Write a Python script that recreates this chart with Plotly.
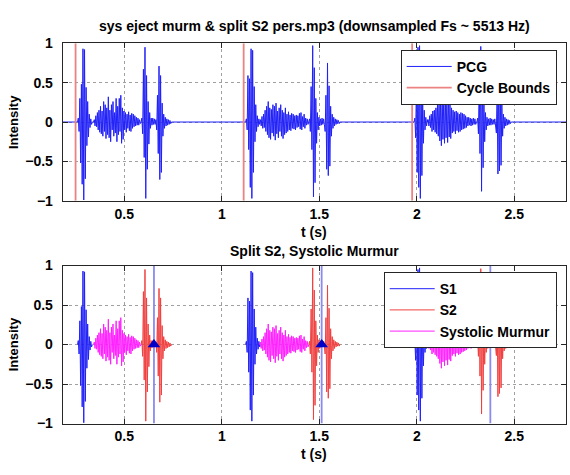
import plotly.graph_objects as go

# ---------------- data ----------------
DT = 0.004  # spacing between successive oscillation peaks (s)
X_MIN, X_MAX = 0.184, 2.765

cycle_bounds = [0.250, 1.112, 1.976]
split_marks = [0.652, 1.512, 2.377]

s1_start = [0.264, 1.126, 1.990]
s1_amp = [
    [0.05, -0.12, 0.30, -0.52, 0.48, -0.79, 0.93, -0.99, 0.92, -0.72, 0.44, -0.30, 0.26, -0.19, 0.10, -0.07, 0.04, -0.03],
    [0.04, -0.10, 0.59, -0.35, 0.55, -0.83, 0.93, -0.97, 0.91, -0.64, 0.45, -0.25, 0.22, -0.12, 0.08, -0.06, 0.04, -0.03],
    [0.05, -0.20, 0.50, -0.64, 0.95, -0.83, 0.97, -0.97, 0.70, -0.68, 0.26, -0.27, 0.15, -0.10, 0.06, -0.05, 0.03],
]

mm_start = [0.346, 1.198, 2.058]
mm_amp = [
    [0.03, -0.05, 0.08, -0.06, 0.12, -0.10, 0.15, -0.13, 0.20, -0.15,
     0.14, -0.18, 0.26, -0.12, 0.22, -0.21, 0.18, -0.16, 0.32, -0.20,
     0.15, -0.25, 0.22, -0.10, 0.26, -0.18, 0.12, -0.14, 0.30, -0.25,
     0.20, -0.16, 0.30, -0.12, 0.34, -0.27, 0.18, -0.22, 0.14, -0.10,
     0.12, -0.13, 0.10, -0.08, 0.13, -0.11, 0.09, -0.12, 0.11, -0.08,
     0.10, -0.06, 0.08, -0.05, 0.06, -0.04, 0.05, -0.04, 0.03, -0.02],
    [0.03, -0.05, 0.07, -0.08, 0.10, -0.07, 0.15, -0.12, 0.20, -0.16,
     0.26, -0.20, 0.18, -0.22, 0.16, -0.14, 0.22, -0.18, 0.20, -0.23,
     0.24, -0.15, 0.14, -0.20, 0.18, -0.12, 0.22, -0.18, 0.15, -0.21,
     0.12, -0.16, 0.18, -0.14, 0.10, -0.12, 0.13, -0.10, 0.09, -0.11,
     0.11, -0.08, 0.10, -0.09, 0.08, -0.10, 0.09, -0.07, 0.08, -0.06,
     0.11, -0.09, 0.12, -0.10, 0.07, -0.06, 0.10, -0.08, 0.05, -0.04,
     0.04, -0.03],
    [0.03, -0.05, 0.08, -0.07, 0.10, -0.12, 0.14, -0.10, 0.15, -0.13,
     0.18, -0.15, 0.22, -0.18, 0.30, -0.24, 0.26, -0.30, 0.34, -0.22,
     0.28, -0.27, 0.32, -0.20, 0.25, -0.26, 0.30, -0.19, 0.22, -0.21,
     0.18, -0.14, 0.15, -0.12, 0.13, -0.15, 0.14, -0.11, 0.12, -0.13,
     0.10, -0.12, 0.12, -0.10, 0.11, -0.09, 0.10, -0.08, 0.08, -0.07,
     0.06, -0.05, 0.06, -0.04, 0.05, -0.05, 0.04, -0.04, 0.05, -0.03,
     0.04, -0.03],
]

s2_start = [0.590, 1.450, 2.312]
s2_amp = [
    [0.05, -0.15, 0.67, -0.45, 0.95, -0.97, 0.59, -0.60, 0.26, -0.28, 0.12, -0.08, 0.05,
     -0.04, 0.05, -0.03, 0.04, -0.03, 0.03,
     -0.10, 0.34, -0.40, 0.71, -0.73, 0.59, -0.64, 0.24, -0.18, 0.10, -0.08, 0.06, -0.05,
     0.04, -0.04, 0.03, -0.03, 0.02, -0.02],
    [0.04, -0.12, 0.45, -0.35, 0.97, -0.95, 0.69, -0.77, 0.30, -0.27, 0.12, -0.10, 0.06,
     -0.05, 0.04, -0.04, 0.05, -0.03, 0.04, -0.03,
     -0.12, 0.34, -0.60, 0.75, -0.68, 0.46, -0.56, 0.20, -0.18, 0.10, -0.08, 0.06, -0.05,
     0.04, -0.03, 0.03, -0.02, 0.02, -0.02],
    [0.05, -0.15, 0.55, -0.40, 0.96, -0.88, 0.70, -0.58, 0.28, -0.25, 0.12, -0.10, 0.06,
     -0.05, 0.04, -0.04, 0.05, -0.04, 0.04, -0.03, 0.03, -0.03, 0.04, -0.03,
     -0.14, 0.40, -0.66, 0.72, -0.62, 0.50, -0.55, 0.22, -0.18, 0.10, -0.08, 0.06, -0.05,
     0.04, -0.04, 0.03, -0.03, 0.02, -0.02],
]

y_ticks = [-1, -0.5, 0, 0.5, 1]
x_ticks = [0.5, 1, 1.5, 2, 2.5]

TITLE_TOP = "sys eject murm &amp; split S2 pers.mp3 (downsampled Fs ~ 5513 Hz)"
TITLE_BOT = "Split S2, Systolic Murmur"

# ---------------- helpers ----------------
def segment(start, amps):
    xs = [start - DT] + [start + i * DT for i in range(len(amps))] + [start + len(amps) * DT]
    ys = [0.0] + list(amps) + [0.0]
    return xs, ys


def join(starts, amps_list):
    X, Y = [], []
    for st, a in zip(starts, amps_list):
        xs, ys = segment(st, a)
        X += xs + [None]
        Y += ys + [None]
    return X, Y


# full PCG for top panel
pieces = []
for st, a in zip(s1_start, s1_amp):
    pieces.append(segment(st, a))
for st, a in zip(mm_start, mm_amp):
    pieces.append(segment(st, a))
for st, a in zip(s2_start, s2_amp):
    pieces.append(segment(st, a))
pieces.sort(key=lambda p: p[0][0])
pcg_x, pcg_y = [X_MIN], [0.0]
for xs, ys in pieces:
    pcg_x += xs
    pcg_y += ys
pcg_x.append(X_MAX)
pcg_y.append(0.0)


def vlines(xs):
    X, Y = [], []
    for v in xs:
        X += [v, v, None]
        Y += [-1, 1, None]
    return X, Y


FONT = "Liberation Sans, Arial, sans-serif"
BLUE = "#2020f8"
fig = go.Figure()

# top panel
fig.add_trace(go.Scatter(x=pcg_x, y=pcg_y, mode="lines", name="PCG",
                         line=dict(color=BLUE, width=1), xaxis="x", yaxis="y", legend="legend"))
cbx, cby = vlines(cycle_bounds)
fig.add_trace(go.Scatter(x=cbx, y=cby, mode="lines", name="Cycle Bounds",
                         line=dict(color="#ec8282", width=1.8), xaxis="x", yaxis="y", legend="legend"))

# bottom panel
sx, sy = join(s1_start, s1_amp)
fig.add_trace(go.Scatter(x=sx, y=sy, mode="lines", name="S1",
                         line=dict(color=BLUE, width=1), xaxis="x2", yaxis="y2", legend="legend2"))
sx, sy = join(s2_start, s2_amp)
fig.add_trace(go.Scatter(x=sx, y=sy, mode="lines", name="S2",
                         line=dict(color="#f04040", width=1), xaxis="x2", yaxis="y2", legend="legend2"))
sx, sy = join(mm_start, mm_amp)
fig.add_trace(go.Scatter(x=sx, y=sy, mode="lines", name="Systolic Murmur",
                         line=dict(color="#ff20ff", width=1), xaxis="x2", yaxis="y2", legend="legend2"))
smx, smy = vlines(split_marks)
fig.add_trace(go.Scatter(x=smx, y=smy, mode="lines", showlegend=False,
                         line=dict(color="#8a8af0", width=1.8), xaxis="x2", yaxis="y2"))
fig.add_trace(go.Scatter(x=split_marks, y=[0] * len(split_marks), mode="markers", showlegend=False,
                         marker=dict(symbol="triangle-up", size=11, color="#0000c8"),
                         xaxis="x2", yaxis="y2"))

W, H = 570, 475
XD = [62.7 / W, 566 / W]
YD_TOP = [1 - 199.5 / H, 1 - 36.5 / H]
YD_BOT = [1 - 430 / H, 1 - 266.5 / H]

axis_common = dict(
    showline=True, linecolor="#262626", linewidth=1, mirror="allticks",
    ticks="inside", ticklen=5, tickcolor="#262626",
    showgrid=True, gridcolor="#a0a0a0", griddash="dot", gridwidth=1,
    zeroline=False,
    tickfont=dict(family=FONT, size=14, color="black", weight="bold"),
)

fig.update_layout(
    width=W, height=H,
    margin=dict(l=0, r=0, t=0, b=0),
    paper_bgcolor="white", plot_bgcolor="white",
    showlegend=True,
    xaxis=dict(domain=XD, range=[X_MIN, X_MAX], tickvals=x_ticks, anchor="y", **axis_common),
    yaxis=dict(domain=YD_TOP, range=[-1, 1], tickvals=y_ticks, anchor="x", ticklabelstandoff=6, **axis_common),
    xaxis2=dict(domain=XD, range=[X_MIN, X_MAX], tickvals=x_ticks, anchor="y2", **axis_common),
    yaxis2=dict(domain=YD_BOT, range=[-1, 1], tickvals=y_ticks, anchor="x2", ticklabelstandoff=6, **axis_common),
    legend=dict(x=556.7 / W, xanchor="right", y=1 - 43.3 / H, yanchor="top",
                bgcolor="white", bordercolor="#262626", borderwidth=1,
                font=dict(family=FONT, size=14, color="black", weight="bold"),
                tracegroupgap=0, itemwidth=45),
    legend2=dict(x=556.7 / W, xanchor="right", y=1 - 273.3 / H, yanchor="top",
                 bgcolor="white", bordercolor="#262626", borderwidth=1,
                 font=dict(family=FONT, size=14, color="black", weight="bold"),
                 tracegroupgap=0, itemwidth=45),
)

xc = (XD[0] + XD[1]) / 2
ann = [
    dict(text=TITLE_TOP, x=xc, y=1 - 19 / H, size=14),
    dict(text="t (s)", x=xc, y=1 - 232 / H, size=14),
    dict(text=TITLE_BOT, x=xc, y=1 - 251 / H, size=14),
    dict(text="t (s)", x=xc, y=1 - 462 / H, size=14),
]
for a in ann:
    fig.add_annotation(text=a["text"], x=a["x"], y=a["y"], xref="paper", yref="paper",
                       xanchor="center", yanchor="middle", showarrow=False,
                       font=dict(family=FONT, size=a["size"], color="black", weight="bold"))
for yc in [1 - 118 / H, 1 - 348 / H]:
    fig.add_annotation(text="Intensity", x=13 / W, y=yc, xref="paper", yref="paper",
                       xanchor="center", yanchor="middle", showarrow=False, textangle=-90,
                       font=dict(family=FONT, size=13, color="black", weight="bold"))

fig.write_html("out.html")
